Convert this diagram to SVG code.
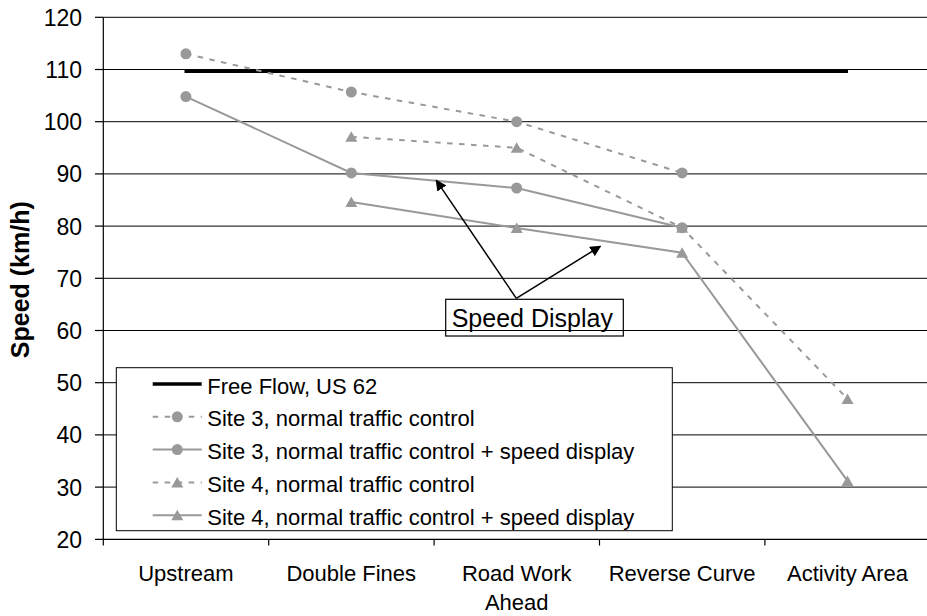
<svg xmlns="http://www.w3.org/2000/svg" width="927" height="616" viewBox="0 0 927 616">
  <style>
    text { font-family: "Liberation Sans", Arial, sans-serif; fill: #000; }
    .grid { stroke: #000; stroke-width: 1; fill: none; }
    .axis { stroke: #000; stroke-width: 1.2; fill: none; }
    .tick { font-size: 23px; text-anchor: end; }
    .cat { font-size: 22px; text-anchor: middle; }
    .leg { font-size: 22px; }
    .s-solid { stroke: #999; stroke-width: 2; fill: none; }
    .s-dash { stroke: #999; stroke-width: 2; fill: none; stroke-dasharray: 5.5 6.5; }
    .mk { fill: #999; stroke: none; }
    .free { stroke: #000; stroke-width: 3.5; fill: none; }
    .arrow { stroke: #000; stroke-width: 1.5; fill: none; marker-end: url(#head); }
  </style>
  <defs>
    <marker id="head" viewBox="0 0 10 10" refX="9" refY="5" markerWidth="11" markerHeight="11" markerUnits="userSpaceOnUse" orient="auto">
      <path d="M0,0 L10,5 L0,10 z" fill="#000"/>
    </marker>
    <circle id="dot" r="5.5" class="mk"/>
    <path id="tri" d="M0,-5.5 L6,5 L-6,5 z" class="mk"/>
  </defs>

  <rect width="927" height="616" fill="#fff"/>

  <!-- horizontal gridlines, 120 down to 20 -->
  <g id="gridlines">
    <line class="grid" x1="103.3" y1="17.3" x2="927" y2="17.3"/>
    <line class="grid" x1="103.3" y1="69.5" x2="927" y2="69.5"/>
    <line class="grid" x1="103.3" y1="121.7" x2="927" y2="121.7"/>
    <line class="grid" x1="103.3" y1="173.9" x2="927" y2="173.9"/>
    <line class="grid" x1="103.3" y1="226.1" x2="927" y2="226.1"/>
    <line class="grid" x1="103.3" y1="278.3" x2="927" y2="278.3"/>
    <line class="grid" x1="103.3" y1="330.5" x2="927" y2="330.5"/>
    <line class="grid" x1="103.3" y1="382.7" x2="927" y2="382.7"/>
    <line class="grid" x1="103.3" y1="434.9" x2="927" y2="434.9"/>
    <line class="grid" x1="103.3" y1="487.1" x2="927" y2="487.1"/>
  </g>

  <!-- axes and ticks -->
  <g id="axes">
    <line class="axis" x1="103.3" y1="17.3" x2="103.3" y2="545.5"/>
    <line class="axis" x1="95" y1="539.3" x2="927" y2="539.3"/>
    <g class="axis">
      <line x1="95" y1="17.3" x2="103.3" y2="17.3"/>
      <line x1="95" y1="69.5" x2="103.3" y2="69.5"/>
      <line x1="95" y1="121.7" x2="103.3" y2="121.7"/>
      <line x1="95" y1="173.9" x2="103.3" y2="173.9"/>
      <line x1="95" y1="226.1" x2="103.3" y2="226.1"/>
      <line x1="95" y1="278.3" x2="103.3" y2="278.3"/>
      <line x1="95" y1="330.5" x2="103.3" y2="330.5"/>
      <line x1="95" y1="382.7" x2="103.3" y2="382.7"/>
      <line x1="95" y1="434.9" x2="103.3" y2="434.9"/>
      <line x1="95" y1="487.1" x2="103.3" y2="487.1"/>
      <line x1="268.7" y1="539.3" x2="268.7" y2="545.5"/>
      <line x1="434.1" y1="539.3" x2="434.1" y2="545.5"/>
      <line x1="599.5" y1="539.3" x2="599.5" y2="545.5"/>
      <line x1="764.9" y1="539.3" x2="764.9" y2="545.5"/>
    </g>
    <text class="tick" x="82" y="25.8">120</text>
    <text class="tick" x="82" y="78">110</text>
    <text class="tick" x="82" y="130.2">100</text>
    <text class="tick" x="82" y="182.4">90</text>
    <text class="tick" x="82" y="234.6">80</text>
    <text class="tick" x="82" y="286.8">70</text>
    <text class="tick" x="82" y="339">60</text>
    <text class="tick" x="82" y="391.2">50</text>
    <text class="tick" x="82" y="443.4">40</text>
    <text class="tick" x="82" y="495.6">30</text>
    <text class="tick" x="82" y="547.8">20</text>
    <text class="cat" x="185.9" y="581">Upstream</text>
    <text class="cat" x="351.3" y="581">Double Fines</text>
    <text class="cat" x="516.7" y="581">Road Work</text>
    <text class="cat" x="516.7" y="609.5">Ahead</text>
    <text class="cat" x="682.1" y="581">Reverse Curve</text>
    <text class="cat" x="847.5" y="581">Activity Area</text>
    <text x="0" y="0" transform="translate(29.3,279.7) rotate(-90)" font-size="25" font-weight="bold" text-anchor="middle">Speed (km/h)</text>
  </g>

  <!-- data series -->
  <g id="free-flow">
    <line class="free" x1="184.5" y1="71.3" x2="848" y2="71.3"/>
  </g>
  <g id="site3-normal">
    <polyline class="s-dash" points="185.9,53.8 351.3,92 516.7,121.7 682.1,172.9"/>
    <use href="#dot" x="185.9" y="53.8"/>
    <use href="#dot" x="351.3" y="92"/>
    <use href="#dot" x="516.7" y="121.7"/>
    <use href="#dot" x="682.1" y="172.9"/>
  </g>
  <g id="site3-display">
    <polyline class="s-solid" points="185.9,96.6 351.3,172.9 516.7,188 682.1,227.7"/>
    <use href="#dot" x="185.9" y="96.6"/>
    <use href="#dot" x="351.3" y="172.9"/>
    <use href="#dot" x="516.7" y="188"/>
    <use href="#dot" x="682.1" y="227.7"/>
  </g>
  <g id="site4-normal">
    <polyline class="s-dash" points="351.3,136.8 516.7,147.8 682.1,227.7 847.5,398.9"/>
    <use href="#tri" x="351.3" y="136.8"/>
    <use href="#tri" x="516.7" y="147.8"/>
    <use href="#tri" x="682.1" y="227.7"/>
    <use href="#tri" x="847.5" y="398.9"/>
  </g>
  <g id="site4-display">
    <polyline class="s-solid" points="351.3,202.1 516.7,228 682.1,252.8 847.5,480.9"/>
    <use href="#tri" x="351.3" y="202.1"/>
    <use href="#tri" x="516.7" y="228"/>
    <use href="#tri" x="682.1" y="252.8"/>
    <use href="#tri" x="847.5" y="480.9"/>
  </g>

  <!-- legend -->
  <g id="legend">
    <rect x="116.3" y="367.7" width="556" height="163" fill="#fff" stroke="#000" stroke-width="1"/>
    <line class="free" x1="152.7" y1="384" x2="201.7" y2="384" stroke-width="3"/>
    <text class="leg" x="207.3" y="393.5">Free Flow, US 62</text>
    <line class="s-dash" x1="152.7" y1="416.8" x2="201.7" y2="416.8" stroke-dasharray="4 6"/>
    <use href="#dot" x="177.3" y="416.8"/>
    <text class="leg" x="207.3" y="426.3">Site 3, normal traffic control</text>
    <line class="s-solid" x1="152.7" y1="449.6" x2="201.7" y2="449.6"/>
    <use href="#dot" x="177.3" y="449.6"/>
    <text class="leg" x="207.3" y="459.1">Site 3, normal traffic control + speed display</text>
    <line class="s-dash" x1="152.7" y1="482.4" x2="201.7" y2="482.4" stroke-dasharray="4 6"/>
    <use href="#tri" x="177.3" y="482.4"/>
    <text class="leg" x="207.3" y="491.9">Site 4, normal traffic control</text>
    <line class="s-solid" x1="152.7" y1="515.2" x2="201.7" y2="515.2"/>
    <use href="#tri" x="177.3" y="515.2"/>
    <text class="leg" x="207.3" y="524.7">Site 4, normal traffic control + speed display</text>
  </g>

  <!-- callout box -->
  <g id="speed-display">
    <rect x="445.7" y="299.3" width="177.6" height="36.7" fill="none" stroke="#000" stroke-width="1.2"/>
    <text x="451.7" y="326.7" font-size="25">Speed Display</text>
  </g>

  <g id="connectors">
    <line class="arrow" x1="516.3" y1="298.3" x2="436.3" y2="180.3"/>
    <line class="arrow" x1="516.3" y1="298.3" x2="600.3" y2="246.3"/>
  </g>
</svg>
